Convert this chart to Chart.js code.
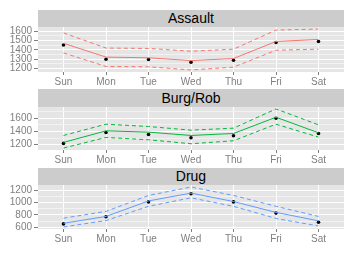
<!DOCTYPE html>
<html>
<head>
<meta charset="utf-8">
<script src="https://cdn.jsdelivr.net/npm/chart.js@4"></script>
<style>
  body { margin: 0; background: #fff; width: 354px; height: 253px; position: relative; overflow: hidden;
         font-family: "Liberation Sans", Arial, sans-serif; }
  canvas { position: absolute; left: 0; }
  .strip { position: absolute; left: 38px; width: 306px; background: #cccccc; color: #000;
           font-size: 14px; text-align: center; }
</style>
</head>
<body>
<canvas id="assault" width="354" height="69" style="top:19px"></canvas>
<canvas id="burg" width="354" height="67" style="top:99px"></canvas>
<canvas id="drug" width="354" height="68" style="top:177px"></canvas>
<div class="strip" style="top:10px;height:17px;line-height:17px">Assault</div>
<div class="strip" style="top:89px;height:18px;line-height:18px">Burg/Rob</div>
<div class="strip" style="top:168px;height:17px;line-height:17px">Drug</div>
<script>
const days = ['Sun', 'Mon', 'Tue', 'Wed', 'Thu', 'Fri', 'Sat'];

const assaultObs = [1452, 1300, 1296, 1267, 1289, 1478, 1489];
const assaultFit = [1470, 1322, 1315, 1285, 1307, 1489, 1511];
const assaultHi  = [1581, 1419, 1415, 1385, 1407, 1611, 1622];
const assaultLo  = [1367, 1222, 1219, 1185, 1215, 1396, 1407];
const assaultTicks = [1200, 1300, 1400, 1500, 1600];

const burgObs = [1220, 1385, 1355, 1305, 1335, 1600, 1370];
const burgFit = [1235, 1410, 1390, 1340, 1370, 1615, 1380];
const burgHi  = [1340, 1510, 1475, 1420, 1450, 1740, 1500];
const burgLo  = [1150, 1310, 1275, 1215, 1260, 1510, 1315];
const burgTicks = [1200, 1400, 1600];

const drugObs = [655, 769, 1009, 1140, 1009, 829, 682];
const drugFit = [665, 775, 1025, 1151, 1015, 840, 704];
const drugHi  = [747, 856, 1113, 1249, 1113, 938, 775];
const drugLo  = [605, 709, 938, 1075, 938, 742, 622];
const drugTicks = [600, 800, 1000, 1200];

Chart.defaults.font.family = '"Liberation Sans", Arial, sans-serif';

// grey panel background behind the plot area
const panelBg = {
    id: 'panelBg',
    beforeDraw(chart) {
        const a = chart.chartArea, ctx = chart.ctx;
        ctx.save();
        ctx.fillStyle = '#e5e5e5';
        ctx.fillRect(a.left, a.top, a.width, a.height);
        ctx.restore();
    }
};

function facet(id, obs, fit, hi, lo, yTicks, colour) {
    const all = obs.concat(fit, hi, lo);
    const dMin = Math.min(...all), dMax = Math.max(...all);
    const pad = (dMax - dMin) * 0.05;
    const yMin = dMin - pad, yMax = dMax + pad;
    const half = (yTicks[1] - yTicks[0]) / 2;
    const gridVals = [];
    for (let v = yTicks[0] - half * 4; v <= yMax; v += half) if (v >= yMin) gridVals.push(v);

    const pts = arr => arr.map((v, i) => ({ x: i, y: v }));
    const band = arr => ({ data: pts(arr), borderColor: colour, borderWidth: 1, borderDash: [4, 3], pointRadius: 0, fill: false });

    new Chart(document.getElementById(id), {
        type: 'line',
        data: {
            datasets: [
                band(hi),
                band(lo),
                { data: pts(fit), borderColor: colour, borderWidth: 1, pointRadius: 0, fill: false },
                { data: pts(obs), showLine: false, pointRadius: 1.8, pointBackgroundColor: '#000', pointBorderWidth: 0 }
            ]
        },
        options: {
            responsive: false, animation: false, events: [],
            layout: { padding: { left: 0, right: 10, top: 8, bottom: 0 } },
            plugins: { legend: { display: false }, tooltip: { enabled: false } },
            scales: {
                x: {
                    type: 'linear', min: -0.6, max: days.length - 0.4,
                    afterBuildTicks: s => { s.ticks = days.map((d, i) => ({ value: i })); },
                    afterFit: s => { s.height = 16; },
                    ticks: { callback: v => days[v], color: '#7f7f7f', font: { size: 10 }, padding: 1, maxRotation: 0, autoSkip: false },
                    grid: { color: '#ffffff', lineWidth: 1, tickColor: '#7f7f7f', tickLength: 3 },
                    border: { display: false }
                },
                y: {
                    min: yMin, max: yMax,
                    afterBuildTicks: s => { s.ticks = gridVals.map(v => ({ value: v })); },
                    afterFit: s => { s.width = 38; },
                    ticks: { callback: v => yTicks.includes(v) ? String(v) : '', color: '#7f7f7f', font: { size: 10 }, padding: 2, autoSkip: false },
                    grid: {
                        color: c => (c.tick && yTicks.includes(c.tick.value)) ? '#ffffff' : '#f2f2f2',
                        tickColor: c => (c.tick && yTicks.includes(c.tick.value)) ? '#7f7f7f' : 'rgba(0,0,0,0)',
                        lineWidth: 1, tickLength: 4
                    },
                    border: { display: false }
                }
            }
        },
        plugins: [panelBg]
    });
}

facet('assault', assaultObs, assaultFit, assaultHi, assaultLo, assaultTicks, '#F8766D');
facet('burg', burgObs, burgFit, burgHi, burgLo, burgTicks, '#00BA38');
facet('drug', drugObs, drugFit, drugHi, drugLo, drugTicks, '#619CFF');
</script>
</body>
</html>
